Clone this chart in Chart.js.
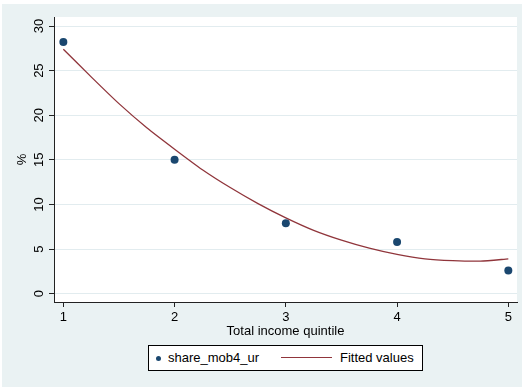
<!DOCTYPE html>
<html>
<head>
<meta charset="utf-8">
<script src="https://cdn.jsdelivr.net/npm/chart.js@4/dist/chart.umd.min.js"></script>
<style>
  body { margin: 0; background: #fff; }
  #wrap { position: relative; width: 522px; height: 387px; }
  #chart { position: absolute; left: 0; top: 0; }
  .legend {
    position: absolute; left: 148px; top: 345px; width: 273px; height: 24px;
    border: 1px solid #000; background: #fff;
    font-family: "Liberation Sans", Arial, sans-serif; font-size: 13px; color: #000;
  }
  .legend .dot {
    position: absolute; left: 7px; top: 10px; width: 5px; height: 5px;
    border-radius: 50%; background: #1a476f;
  }
  .legend .line {
    position: absolute; left: 132px; top: 11px; width: 51px; height: 0;
    border-top: 1.3px solid #90353b;
  }
  .legend .lbl { position: absolute; top: 4px; white-space: nowrap; }
</style>
</head>
<body>
<div id="wrap">
  <canvas id="chart" width="522" height="387"></canvas>
  <div class="legend">
    <span class="dot"></span><span class="lbl" style="left:19px">share_mob4_ur</span>
    <span class="line"></span><span class="lbl" style="left:191px">Fitted values</span>
  </div>
</div>
<script>
// values
const quintiles = [1, 2, 3, 4, 5];
const shareMob4Ur = [28.2, 15.0, 7.9, 5.8, 2.6];

const fitX = [1, 1.25, 1.5, 1.75, 2, 2.25, 2.5, 2.75, 3, 3.25, 3.5, 3.75, 4, 4.25, 4.5, 4.75, 5];
const fitValues = [27.4, 24.3, 21.3, 18.6, 16.2, 13.9, 11.9, 10.1, 8.5, 7.1, 6.0, 5.1, 4.4, 3.9, 3.7, 3.65, 3.9];

const xTicks = [1, 2, 3, 4, 5];
const yTicks = [0, 5, 10, 15, 20, 25, 30];

const NAVY = "#1a476f";
const MAROON = "#90353b";
const BG = "#eaf2f3";
const FONT = { family: "Liberation Sans", size: 13 };

const background = {
  id: "background",
  beforeDraw(chart) {
    const { ctx, chartArea } = chart;
    ctx.save();
    ctx.fillStyle = BG;
    ctx.fillRect(2, 4, 520, 383);
    ctx.fillStyle = "#fff";
    ctx.fillRect(chartArea.left, chartArea.top, chartArea.right - chartArea.left, chartArea.bottom - chartArea.top);
    ctx.restore();
  },
};

new Chart(document.getElementById("chart"), {
  type: "scatter",
  data: {
    datasets: [
      {
        label: "share_mob4_ur",
        data: quintiles.map((q, i) => ({ x: q, y: shareMob4Ur[i] })),
        backgroundColor: NAVY,
        pointRadius: 4,
        pointBorderWidth: 0,
        order: 1,
      },
      {
        label: "Fitted values",
        data: fitX.map((q, i) => ({ x: q, y: fitValues[i] })),
        showLine: true,
        borderColor: MAROON,
        borderWidth: 1.3,
        pointRadius: 0,
        tension: 0.2,
        order: 2,
      },
    ],
  },
  options: {
    responsive: false,
    animation: false,
    layout: { padding: { left: 0, right: 5, top: 17, bottom: 48 } },
    plugins: { legend: { display: false }, tooltip: { enabled: false } },
    scales: {
      x: {
        type: "linear",
        min: 0.916,
        max: 5.078,
        afterBuildTicks: (scale) => { scale.ticks = xTicks.map((v) => ({ value: v })); },
        afterFit: (scale) => { scale.height = 37; },
        grid: { drawOnChartArea: false, tickColor: "#222", tickLength: 5 },
        border: { display: true, color: "#222", width: 1 },
        ticks: { color: "#000", font: FONT, padding: 3, maxRotation: 0 },
        title: { display: true, text: "Total income quintile", color: "#000", font: FONT, padding: { top: 0, bottom: 0 } },
      },
      y: {
        min: -0.93,
        max: 31.01,
        afterBuildTicks: (scale) => { scale.ticks = yTicks.map((v) => ({ value: v })); },
        afterFit: (scale) => { scale.width = 54; },
        grid: { color: "#e2ecef", lineWidth: 1, tickColor: "#222", tickLength: 5 },
        border: { display: true, color: "#222", width: 1 },
        ticks: { color: "#000", font: FONT, padding: 2, minRotation: 90, maxRotation: 90, crossAlign: "center" },
        title: { display: true, text: "%", color: "#000", font: FONT, padding: { top: 15, bottom: 0 } },
      },
    },
  },
  plugins: [background],
});
</script>
</body>
</html>
